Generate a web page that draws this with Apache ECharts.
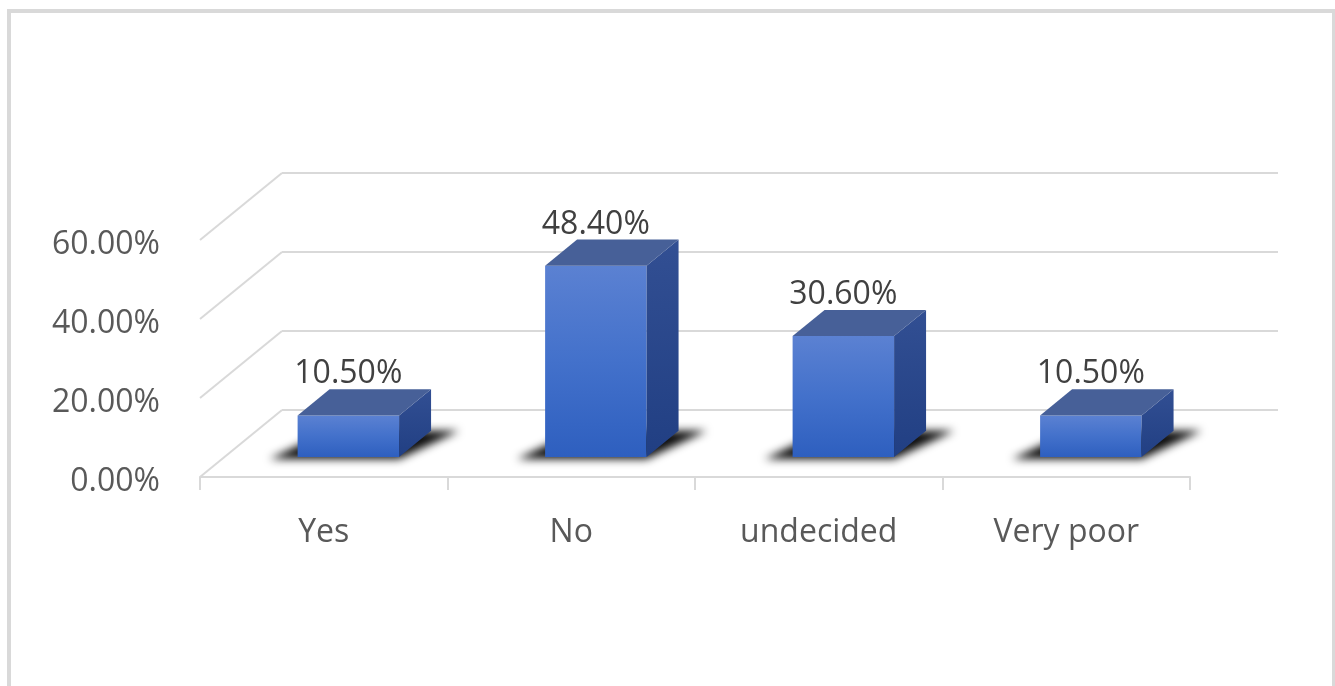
<!DOCTYPE html>
<html>
<head>
<meta charset="utf-8">
<title>Survey responses</title>
<script src="https://cdn.jsdelivr.net/npm/echarts@6/dist/echarts.min.js"></script>
<style>
  html, body { margin: 0; padding: 0; background: #ffffff; }
  #chart { width: 1335px; height: 686px; }
</style>
</head>
<body>
<div id="chart"></div>
<script>
// ---- data ----
const categories = ['Yes', 'No', 'undecided', 'Very poor'];
const shares = [0.105, 0.484, 0.306, 0.105];
const yTicks = [0, 0.2, 0.4, 0.6];

// ---- layout / style ----
const DEPTH_X = 82, DEPTH_Y = -67;          // oblique offset: front edge of floor -> back wall
const FRONT = { left: 200, right: 145, top: 240, bottom: 209 };
const BACK = { left: 282, right: 57, top: 173, bottom: 276 };
const BAR_W = 0.41;                          // bar width as share of category band
const BAR_D0 = 0.30, BAR_D1 = 0.69;          // bar depth span as share of floor depth
const FONT = '"Open Sans", "Liberation Sans", sans-serif';
const GRID_COLOR = '#d9d9d9';

const pct = v => (v * 100).toFixed(2) + '%';

// left wall: diagonal lines joining front ticks with the back wall gridlines
function renderWall(params, api) {
  const v = api.value(1);
  const cs = params.coordSys;
  const y = api.coord([0, v])[1];
  return {
    type: 'line',
    shape: { x1: cs.x, y1: y, x2: cs.x + DEPTH_X, y2: y + DEPTH_Y },
    style: { stroke: GRID_COLOR, lineWidth: 2 }
  };
}

// 3D-looking column: floor shadow, front face, side face, top face, value text
function renderBar(params, api) {
  const i = api.value(0), v = api.value(1);
  const base = api.coord([i, 0]);
  const top = api.coord([i, v]);
  const catW = api.size([1, 0])[0];
  const w = catW * BAR_W;
  const ox = DEPTH_X * BAR_D0, oy = DEPTH_Y * BAR_D0;
  const dx = DEPTH_X * (BAR_D1 - BAR_D0), dy = DEPTH_Y * (BAR_D1 - BAR_D0);
  const x0 = base[0] - w / 2 + ox, x1 = x0 + w;
  const yb = base[1] + oy, yt = top[1] + oy;
  const FAR = 3000; // shadow shape is drawn off-canvas; only its blurred shadow lands on the floor

  return {
    type: 'group',
    children: [
      {
        type: 'polygon',
        shape: { points: [
          [x0 - 28 - FAR, yb + 2], [x1 - FAR, yb + 2],
          [x1 + dx + 28 - FAR, yb + dy], [x0 + dx - FAR, yb + dy]
        ] },
        style: {
          fill: '#000', shadowBlur: 8, shadowColor: 'rgba(0,0,0,0.95)',
          shadowOffsetX: FAR, shadowOffsetY: 0
        },
        silent: true
      },
      {
        type: 'rect',
        shape: { x: x0, y: yt, width: w, height: yb - yt },
        style: { fill: new echarts.graphic.LinearGradient(0, 0, 0, 1, [
          { offset: 0, color: '#5b81d2' },
          { offset: 0.5, color: '#4371cb' },
          { offset: 1, color: '#2e5fbf' }
        ]) }
      },
      {
        type: 'polygon',
        shape: { points: [[x1, yt], [x1 + dx, yt + dy], [x1 + dx, yb + dy], [x1, yb]] },
        style: { fill: new echarts.graphic.LinearGradient(0, 0, 0, 1, [
          { offset: 0, color: '#324f93' },
          { offset: 1, color: '#213f83' }
        ]) }
      },
      {
        type: 'polygon',
        shape: { points: [[x0, yt], [x1, yt], [x1 + dx, yt + dy], [x0 + dx, yt + dy]] },
        style: { fill: '#476098' }
      },
      {
        type: 'text',
        style: {
          text: pct(v), x: (x0 + x1) / 2, y: yt + dy - 15,
          align: 'center', verticalAlign: 'middle',
          fontSize: 32, fontFamily: FONT, fill: '#404040'
        }
      }
    ]
  };
}

const chart = echarts.init(document.getElementById('chart'), null, { renderer: 'canvas' });

chart.setOption({
  animation: false,
  backgroundColor: '#ffffff',
  graphic: [{
    type: 'rect', z: -10,
    shape: { x: 9, y: 11, width: 1325, height: 700 },
    style: { fill: null, stroke: GRID_COLOR, lineWidth: 4 }
  }],
  grid: [
    { left: FRONT.left, right: FRONT.right, top: FRONT.top, bottom: FRONT.bottom },
    { left: BACK.left, right: BACK.right, top: BACK.top, bottom: BACK.bottom }
  ],
  xAxis: [
    {
      gridIndex: 0, type: 'category', data: categories, boundaryGap: true,
      axisLine: { show: true, lineStyle: { color: GRID_COLOR, width: 2 } },
      axisTick: { show: true, length: 13, interval: 0, lineStyle: { color: GRID_COLOR, width: 2 } },
      axisLabel: { margin: 40, fontSize: 32, fontFamily: FONT, color: '#595959', interval: 0 },
      splitLine: { show: false }
    },
    {
      gridIndex: 1, type: 'category', data: categories, show: false
    }
  ],
  yAxis: [
    {
      gridIndex: 0, type: 'value', min: 0, max: 0.6, interval: 0.2,
      axisLine: { show: false }, axisTick: { show: false },
      axisLabel: {
        formatter: v => pct(v), margin: 40, fontSize: 32, fontFamily: FONT,
        color: '#595959', verticalAlign: 'top', lineHeight: 10
      },
      splitLine: { show: false }
    },
    {
      gridIndex: 1, type: 'value', min: 0, max: 0.6, interval: 0.2,
      axisLine: { show: false }, axisTick: { show: false }, axisLabel: { show: false },
      splitLine: { show: true, showMinLine: true, showMaxLine: true,
        lineStyle: { color: GRID_COLOR, width: 2 } }
    }
  ],
  series: [
    {
      type: 'custom', name: 'wall', xAxisIndex: 0, yAxisIndex: 0, z: 1,
      renderItem: renderWall,
      data: yTicks.map(v => [0, v]),
      silent: true
    },
    {
      type: 'custom', name: 'Share', xAxisIndex: 0, yAxisIndex: 0, z: 3,
      renderItem: renderBar,
      data: categories.map((c, i) => [i, shares[i]])
    }
  ]
});
</script>
</body>
</html>
